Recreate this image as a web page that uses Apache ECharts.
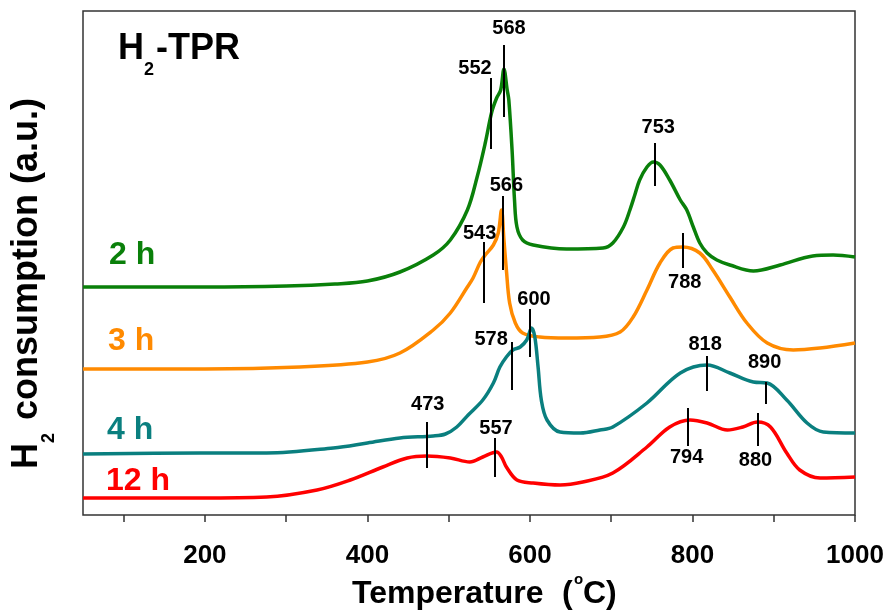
<!DOCTYPE html>
<html><head><meta charset="utf-8">
<script src="https://cdn.jsdelivr.net/npm/echarts@6/dist/echarts.min.js"></script>
<style>html,body{margin:0;padding:0;background:#fff}#c{width:888px;height:611px}</style>
</head><body><div id="c"></div>
<script>
// ---- axis ticks ----
const tempTicks = [100, 200, 300, 400, 500, 600, 700, 800, 900, 1000];
const tempLabels = [200, 400, 600, 800, 1000];

// ---- series names ----
const seriesNames = ['2 h', '3 h', '4 h', '12 h'];

// ---- 2 h ----
const t2h = [50, 200, 300, 360, 400, 440, 481, 502, 523, 535, 545, 553, 559, 564, 568, 572, 574, 578, 581, 584, 591, 604, 645, 690, 702, 715, 723, 729, 735, 744, 752, 760, 772, 785, 793, 801, 809, 818, 830, 846, 875, 908, 948, 973, 1000];
const v2h = [228, 228, 229, 231, 234, 243, 260, 275, 305, 338, 372, 403, 417, 425, 446, 425, 415, 365, 315, 288, 275, 270, 266, 267, 272, 288, 305, 320, 335, 348, 353, 350, 335, 315, 305, 288, 272, 262, 255, 250, 244, 250, 259, 260, 258];

// ---- 3 h ----
const t3h = [50, 200, 317, 400, 440, 481, 502, 523, 530, 539, 545, 555, 561, 565, 568, 571, 575, 582, 591, 612, 645, 686, 711, 727, 744, 760, 776, 788, 809, 825, 846, 867, 892, 924, 957, 1000];
const v3h = [146, 146, 148, 153, 162, 185, 202, 228, 237, 253, 260, 270, 282, 305, 275, 245, 212, 192, 182, 178, 177, 178, 183, 198, 225, 252, 267, 268, 262, 245, 218, 192, 172, 165, 167, 172];

// ---- 4 h ----
const t4h = [50, 194, 276, 358, 400, 440, 481, 496, 510, 524, 542, 555, 563, 571, 579, 588, 596, 602, 606, 610, 614, 621, 637, 662, 686, 702, 744, 785, 818, 846, 875, 892, 916, 941, 961, 1000];
const v4h = [61, 62, 62, 67, 72, 77, 79, 81, 88, 100, 115, 132, 148, 158, 165, 168, 175, 187, 178, 148, 115, 95, 83, 82, 85, 88, 112, 142, 150, 142, 133, 132, 115, 92, 83, 82];

// ---- 12 h ----
const t12h = [50, 194, 276, 338, 379, 419, 449, 473, 502, 526, 542, 559, 565, 571, 584, 604, 637, 665, 702, 744, 772, 797, 818, 843, 862, 880, 896, 916, 932, 957, 1000];
const v12h = [17, 17, 18, 25, 35, 48, 57, 59, 57, 53, 58, 63, 58, 48, 35, 32, 30, 33, 42, 68, 88, 95, 92, 85, 88, 93, 88, 62, 45, 37, 38];

// ---- peak annotations: temperature, tick start, tick end (label side) ----
const ann2hT = [552, 568, 753];
const ann2hFrom = [366, 398, 329];
const ann2hTo = [437, 470, 372];
const ann3hT = [543, 566, 788];
const ann3hFrom = [212, 245, 282];
const ann3hTo = [273, 319, 247];
const ann4hT = [578, 600, 818, 890];
const ann4hFrom = [125, 158, 124, 111];
const ann4hTo = [173, 206, 159, 133];
const ann12hT = [473, 557, 794, 880];
const ann12hFrom = [47, 38, 107, 102];
const ann12hTo = [93, 77, 69, 69];

// ---- layout (label offsets in px, relative to tick end) ----
const off2h = [[-16, -10], [5, -17], [4, -16]];
const off3h = [[-4, -9], [4, -11], [2, 14]];
const off4h = [[-21, -3], [4, -10], [-2, -12], [-1, -20]];
const off12h = [[1, -18], [1, -10], [-1, 11], [-2, 14]];

const colors = ['#0a800a', '#ff8a00', '#0a7f7f', '#ff0000'];
const FONT = '"Liberation Sans", Arial, sans-serif';

function pairs(t, v) { return t.map((x, i) => [x, v[i]]); }

function makeSeries(name, t, v, color, aT, aFrom, aTo, offs) {
  return {
    name: name, type: 'line', data: pairs(t, v),
    smooth: 0.35, showSymbol: false, symbol: 'none',
    lineStyle: { color: color, width: 3.5 }, itemStyle: { color: color },
    animation: false, silent: true,
    markLine: {
      silent: true, symbol: ['none', 'none'], animation: false,
      lineStyle: { color: '#000', width: 2, type: 'solid' },
      label: { show: false },
      data: aT.map((T, i) => [{ coord: [T, aFrom[i]] }, { coord: [T, aTo[i]] }])
    },
    markPoint: {
      silent: true, animation: false, symbol: 'circle', symbolSize: 0,
      data: aT.map((T, i) => ({
        name: String(T), coord: [T, aTo[i]],
        label: { show: true, position: 'inside', offset: offs[i], formatter: '{b}',
          color: '#000', fontSize: 20, fontWeight: 'bold', fontFamily: FONT }
      }))
    }
  };
}

function txt(x, y, text, size, color, rot) {
  return { type: 'text', x: x, y: y, rotation: rot || 0, silent: true,
    style: { text: text, font: 'bold ' + size + 'px ' + FONT, fill: color,
      textAlign: 'left', textVerticalAlign: 'middle', align: 'left', verticalAlign: 'middle' } };
}

const chart = echarts.init(document.getElementById('c'), null, { renderer: 'canvas' });
chart.setOption({
  animation: false,
  backgroundColor: '#fff',
  grid: { left: 83, right: 33, top: 11, bottom: 96, show: true, borderColor: '#333', borderWidth: 1.5, backgroundColor: 'transparent' },
  xAxis: {
    type: 'value', min: 50, max: 1000,
    axisLine: { show: false },
    axisTick: { show: true, inside: false, length: 7, customValues: tempTicks, lineStyle: { color: '#333', width: 1.5 } },
    axisLabel: { customValues: tempLabels, margin: 28, fontSize: 26, fontWeight: 'bold', color: '#000', fontFamily: FONT, hideOverlap: false,
      formatter: function (v) { return String(v); } },
    splitLine: { show: false }
  },
  yAxis: {
    type: 'value', min: 0, max: 504,
    axisLine: { show: false }, axisTick: { show: false }, axisLabel: { show: false }, splitLine: { show: false }
  },
  series: [
    makeSeries(seriesNames[0], t2h, v2h, colors[0], ann2hT, ann2hFrom, ann2hTo, off2h),
    makeSeries(seriesNames[1], t3h, v3h, colors[1], ann3hT, ann3hFrom, ann3hTo, off3h),
    makeSeries(seriesNames[2], t4h, v4h, colors[2], ann4hT, ann4hFrom, ann4hTo, off4h),
    makeSeries(seriesNames[3], t12h, v12h, colors[3], ann12hT, ann12hFrom, ann12hTo, off12h)
  ],
  graphic: [
    txt(118, 49, 'H', 36, '#000'),
    txt(144, 70, '2', 18, '#000'),
    txt(156, 49, '-TPR', 36, '#000'),
    txt(109, 255, seriesNames[0], 32, colors[0]),
    txt(108, 341, seriesNames[1], 32, colors[1]),
    txt(107, 430, seriesNames[2], 32, colors[2]),
    txt(106, 481, seriesNames[3], 32, colors[3]),
    txt(352, 594, 'Temperature', 32, '#000'),
    txt(562, 594, '(', 32, '#000'),
    txt(574, 580, 'o', 15, '#000'),
    txt(583, 594, 'C)', 32, '#000'),
    txt(27, 469, 'H', 36, '#000', Math.PI / 2),
    txt(49, 443, '2', 18, '#000', Math.PI / 2),
    txt(27, 420, 'consumption (a.u.)', 36, '#000', Math.PI / 2)
  ]
});
</script>
</body></html>
